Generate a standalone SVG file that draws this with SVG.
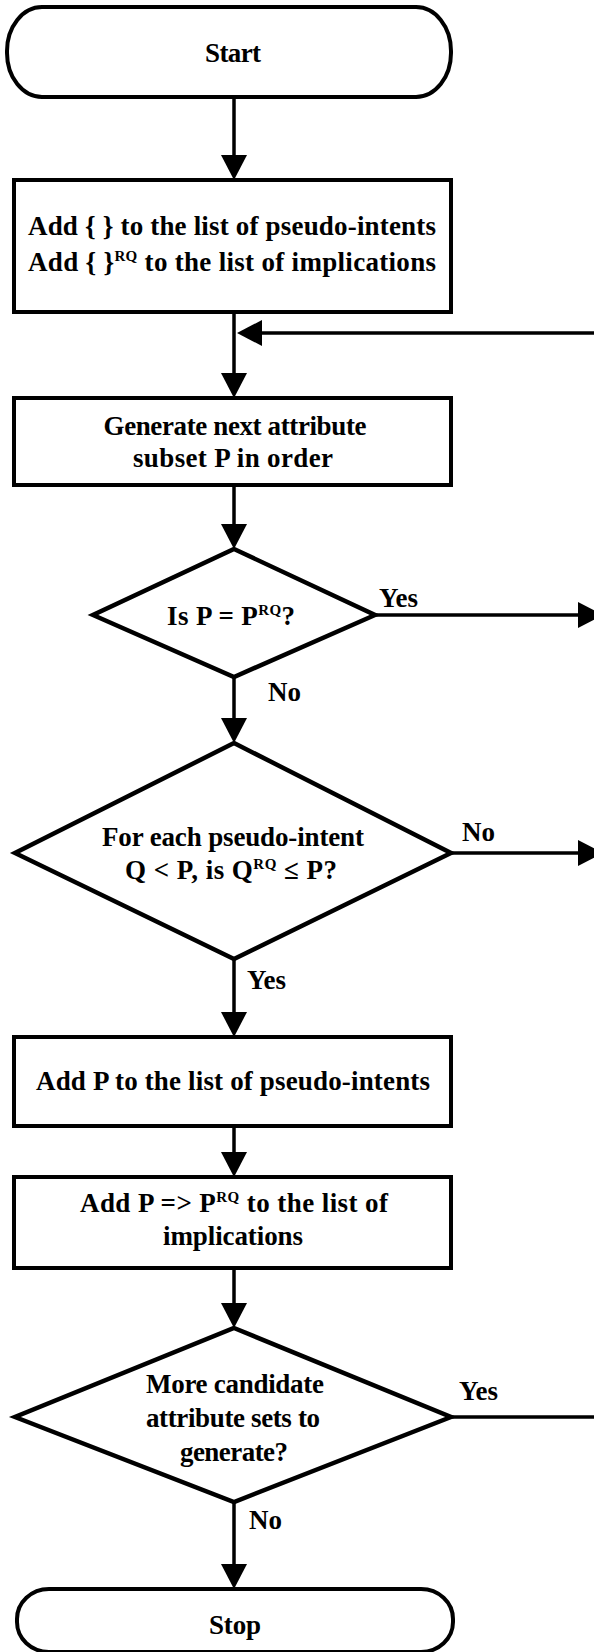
<svg xmlns="http://www.w3.org/2000/svg" width="594" height="1652" viewBox="0 0 594 1652">
  <style>
    .shape { fill: #fff; stroke: #000; stroke-width: 4; stroke-linejoin: miter; }
    .diamond { fill: #fff; stroke: #000; stroke-width: 4.5; stroke-linejoin: miter; }
    .edge { fill: none; stroke: #000; stroke-width: 3.5; }
    .t { font-family: "Liberation Serif", "Times New Roman", serif; font-weight: bold; font-size: 27px; fill: #000; }
    .c { text-anchor: middle; }
    .sup { font-size: 15px; }
  </style>
  <defs>
    <marker id="head" viewBox="0 0 25 26" refX="21" refY="13" markerWidth="25" markerHeight="26" markerUnits="userSpaceOnUse" orient="auto">
      <path d="M0,0 L25,13 L0,26 Z" fill="#000"/>
    </marker>
  </defs>
  <rect width="594" height="1652" fill="#fff"/>

  <!-- connectors -->
  <g id="connectors">
    <path class="edge" d="M234,97 V176" marker-end="url(#head)"/>
    <path class="edge" d="M234,312 V394" marker-end="url(#head)"/>
    <path class="edge" d="M599,333 H241" marker-end="url(#head)"/>
    <path class="edge" d="M234,485 V545" marker-end="url(#head)"/>
    <path class="edge" d="M375,615 H599" marker-end="url(#head)"/>
    <path class="edge" d="M234,677 V739" marker-end="url(#head)"/>
    <path class="edge" d="M451,853 H599" marker-end="url(#head)"/>
    <path class="edge" d="M234,959 V1033" marker-end="url(#head)"/>
    <path class="edge" d="M234,1126 V1173" marker-end="url(#head)"/>
    <path class="edge" d="M234,1268 V1324" marker-end="url(#head)"/>
    <path class="edge" d="M451,1417 H600"/>
    <path class="edge" d="M234,1502 V1585" marker-end="url(#head)"/>
    <text class="t" x="379" y="607">Yes</text>
    <text class="t" x="268" y="701">No</text>
    <text class="t" x="462" y="841">No</text>
    <text class="t" x="247" y="989">Yes</text>
    <text class="t" x="459" y="1400">Yes</text>
    <text class="t" x="249" y="1529">No</text>
  </g>

  <g id="start">
    <rect class="shape" x="7" y="7" width="444" height="90" rx="35" ry="44"/>
    <text class="t c" x="233" y="62" textLength="56">Start</text>
  </g>

  <g id="init">
    <rect class="shape" x="14" y="180" width="437" height="132"/>
    <text class="t c" x="232" y="235" textLength="408">Add { } to the list of pseudo-intents</text>
    <text class="t c" x="232" y="271" textLength="408">Add { }<tspan class="sup" dy="-10">RQ</tspan><tspan dy="10"> to the list of implications</tspan></text>
  </g>

  <g id="generate">
    <rect class="shape" x="14" y="398" width="437" height="87"/>
    <text class="t c" x="235" y="435" textLength="263">Generate next attribute</text>
    <text class="t c" x="233" y="467" textLength="200">subset P in order</text>
  </g>

  <g id="closed-test">
    <polygon class="diamond" points="234,549 375,615 234,677 93,615"/>
    <text class="t c" x="231" y="625" textLength="128">Is P = P<tspan class="sup" dy="-10">RQ</tspan><tspan dy="10">?</tspan></text>
  </g>

  <g id="pseudo-test">
    <polygon class="diamond" points="234,743 451,853 234,959 15,853"/>
    <text class="t c" x="233" y="846" textLength="262">For each pseudo-intent</text>
    <text class="t c" x="231" y="879" textLength="212">Q &lt; P, is Q<tspan class="sup" dy="-10">RQ</tspan><tspan dy="10"> ≤ P?</tspan></text>
  </g>

  <g id="add-intent">
    <rect class="shape" x="14" y="1037" width="437" height="89"/>
    <text class="t c" x="233" y="1090" textLength="394">Add P to the list of pseudo-intents</text>
  </g>

  <g id="add-implication">
    <rect class="shape" x="14" y="1177" width="437" height="91"/>
    <text class="t c" x="234" y="1212" textLength="308">Add P =&gt; P<tspan class="sup" dy="-10">RQ</tspan><tspan dy="10"> to the list of</tspan></text>
    <text class="t c" x="233" y="1245" textLength="140">implications</text>
  </g>

  <g id="more-test">
    <polygon class="diamond" points="234,1328 451,1417 234,1502 15,1417"/>
    <text class="t c" x="235" y="1393" textLength="178">More candidate</text>
    <text class="t c" x="233" y="1427" textLength="174">attribute sets to</text>
    <text class="t c" x="234" y="1461" textLength="108">generate?</text>
  </g>

  <g id="stop">
    <rect class="shape" x="17" y="1589" width="436" height="63" rx="32" ry="30"/>
    <text class="t c" x="235" y="1634" textLength="52">Stop</text>
  </g>
</svg>
